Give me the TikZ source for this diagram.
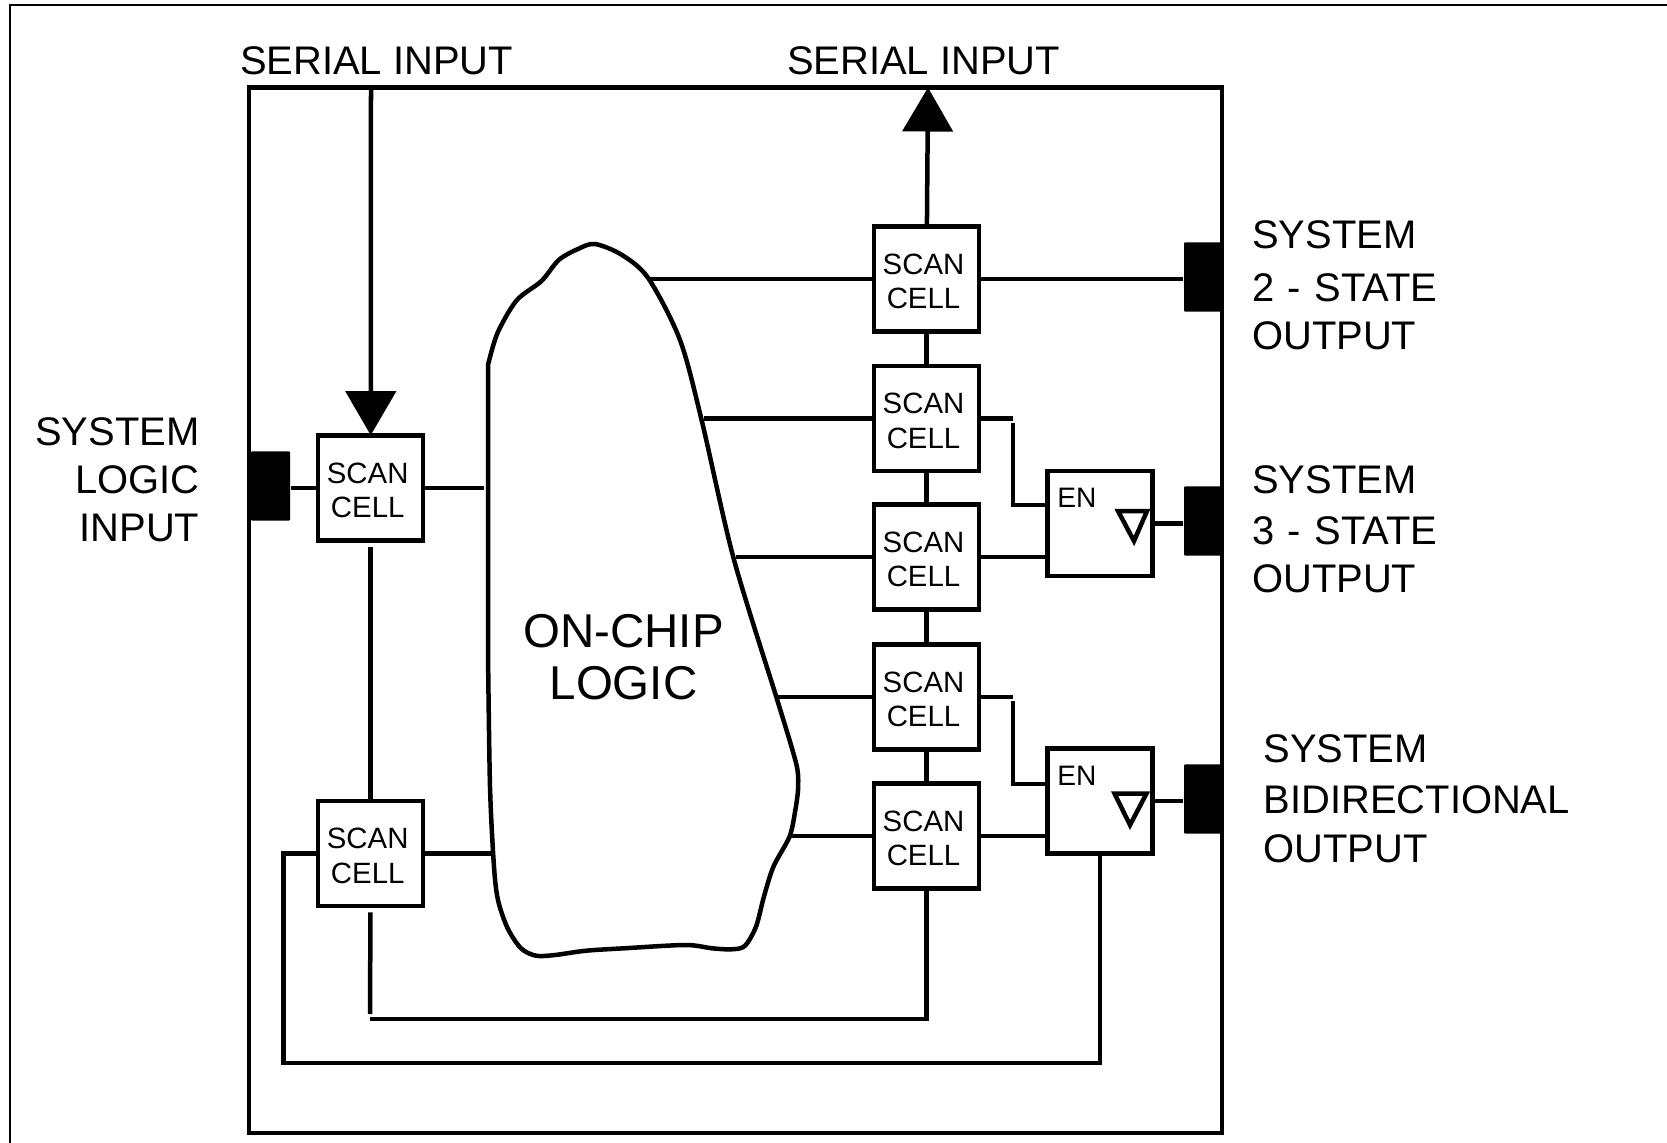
\documentclass[tikz,border=0pt]{standalone}
\usepackage{fontspec}
\setmainfont{Liberation Sans}
\usetikzlibrary{arrows.meta}
\tikzset{
  wire/.style={line width=0.045cm},
  scancell/.style={draw, line width=0.045cm, minimum size=1.05cm, inner sep=0pt, align=center,
    font=\fontsize{8.35}{9.8}\selectfont},
  enbox/.style={draw, line width=0.045cm, minimum size=1.05cm, inner sep=0pt},
  pad/.style={fill=black, rounded corners=0.01cm, minimum width=0.39cm, minimum height=0.69cm, inner sep=0pt},
  bigtext/.style={font=\fontsize{11.35}{13.6}\selectfont, inner sep=0pt, align=left},
  tip/.style={-{Triangle[length=0.44cm,width=0.5cm]}}
}
\newcommand{\scantext}{\rule{0pt}{7.2pt}SCAN\hspace*{.06cm}\\CELL\hspace*{.06cm}}
\begin{document}
\begin{tikzpicture}[x=0.01cm, y=-0.01cm]
  \useasboundingbox (0,0) rectangle (1667,1143);
  % page frame and chip
  \draw[line width=0.025cm] (10,1143) -- (10,5) -- (1667,5);
  \draw[line width=0.045cm] (249,87.5) rectangle (1222,1133);

  % on-chip logic
  \draw[wire] plot[smooth, tension=.5] coordinates {(488,365) (497.5,333) (516.6,300.4) (541.5,281) (558.7,260) (578,249) (595,244)
    (622,255) (648.5,278.5) (680,340) (701.6,420) (733.5,558) (776,696) (791,745) (797.5,770) (798,790) (795,812) (789.5,836.7)
    (773.4,866.7) (763.9,896.7) (756,926.7) (744.7,946) (731.3,949.3) (712,948.3) (685.4,945) (624,948.3)
    (586,950.7) (555,955) (536,955.7) (521,948.3) (507.5,928) (498,900) (494,866.7) (490,786.7) (488,653)} -- cycle;
  \node[font=\fontsize{13.5}{14.7}\selectfont, align=center] (logic) at (623.5,657) {ON-CHIP\\LOGIC};

  % scan cells
  \node[scancell] (cellLa) at (370.7,488) {\scantext};
  \node[scancell] (cellLb) at (370.7,853.5) {\scantext};
  \node[scancell] (cellA) at (926.5,279) {\scantext};
  \node[scancell] (cellB) at (926.5,418.5) {\scantext};
  \node[scancell] (cellC) at (926.5,557) {\scantext};
  \node[scancell] (cellD) at (926.5,697) {\scantext};
  \node[scancell] (cellE) at (926.5,836) {\scantext};

  % enable boxes
  \node[enbox] (enbA) at (1100,523.5) {};
  \node[enbox] (enbB) at (1100,801) {};
  \node[font=\fontsize{8}{9}\selectfont, inner sep=0pt] (enA) at (1077,498) {EN};
  \node[font=\fontsize{8}{9}\selectfont, inner sep=0pt] (enB) at (1077,776) {EN};
  \draw[wire] (1118,511) -- (1147,511) -- (1134,541) -- cycle;
  \draw[wire] (1114.5,793.5) -- (1146.5,793.5) -- (1130,825) -- cycle;

  % pads
  \node[pad] (padL) at (270.5,486) {};
  \node[pad] (padA) at (1203.5,277) {};
  \node[pad] (padB) at (1203.5,521) {};
  \node[pad] (padC) at (1203.5,799) {};

  % labels
  \node[bigtext] (serialin) at (376.5,61) {SERIAL INPUT};
  \node[bigtext] (serialout) at (923.5,61) {SERIAL INPUT};
  \node[bigtext, anchor=east, align=right] (logicin) at (200,479.5) {SYSTEM\\LOGIC\\INPUT};
  \node[bigtext, anchor=west] (sysA) at (1251.5,285) {SYSTEM\\[1.4pt]2\hspace{.7pt} -\hspace{.7pt} STATE\\OUTPUT};
  \node[bigtext, anchor=west] (sysB) at (1251.5,529) {SYSTEM\\[1pt]3\hspace{.7pt} -\hspace{.7pt} STATE\\OUTPUT};
  \node[bigtext, anchor=west] (sysC) at (1263,799) {SYSTEM\\[.8pt]BIDIRECTIONAL\\[.4pt]OUTPUT};

  % free ends
  \coordinate (chipin) at (371,90);
  \coordinate (chipout) at (928,87.5);
  \coordinate (blobLa) at (484,488);
  \coordinate (blobLb) at (494,853.5);
  \coordinate (blobA) at (648.5,279);
  \coordinate (blobB) at (703.8,418.5);
  \coordinate (blobC) at (735.7,557);
  \coordinate (blobD) at (777,697);
  \coordinate (blobE) at (789.5,836);
  \coordinate (kneeA) at (1013,418.5);
  \coordinate (kneeB) at (1013,697);
  \coordinate (enInA) at (1048,505);
  \coordinate (enInB) at (1048,784);
  \coordinate (feedA) at (370,1019);
  \coordinate (feedB) at (283.6,1063);

  % connectors
  \draw[wire, tip, shorten >=-.02cm] (chipin) -- (cellLa);
  \draw[wire, tip] (cellA) -- (chipout);
  \draw[wire] (cellLa) -- (cellLa -| padL.east);
  \draw[wire] (cellLa) -- (blobLa);
  \draw[wire, shorten <=.04cm] (cellLa) -- (cellLb);
  \draw[wire] (blobLb) -- (cellLb);
  \draw[wire] (blobA) -- (cellA);
  \draw[wire] (cellA) -- (cellA -| padA.west);
  \draw[wire] (blobB) -- (cellB);
  \draw[wire] (blobC) -- (cellC);
  \draw[wire] (blobD) -- (cellD);
  \draw[wire] (blobE) -- (cellE);
  \draw[wire] (cellA) -- (cellB);
  \draw[wire] (cellB) -- (cellC);
  \draw[wire] (cellC) -- (cellD);
  \draw[wire] (cellD) -- (cellE);
  \draw[wire] (cellB) -- (kneeA);
  \draw[wire, shorten <=.04cm] (kneeA) |- (enInA);
  \draw[wire] (cellC) -- (cellC -| enbA.west);
  \draw[wire] (enbA.east) -- (enbA.east -| padB.west);
  \draw[wire] (cellD) -- (kneeB);
  \draw[wire, shorten <=.04cm] (kneeB) |- (enInB);
  \draw[wire] (cellE) -- (cellE -| enbB.west);
  \draw[wire] (enbB.east) -- (enbB.east -| padC.west);
  \draw[wire, shorten <=.04cm, shorten >=.05cm] (cellLb) -- (feedA);
  \draw[wire] (feedA) -| (cellE);
  \draw[wire] (enbB) |- (feedB) |- (cellLb);
\end{tikzpicture}
\end{document}
